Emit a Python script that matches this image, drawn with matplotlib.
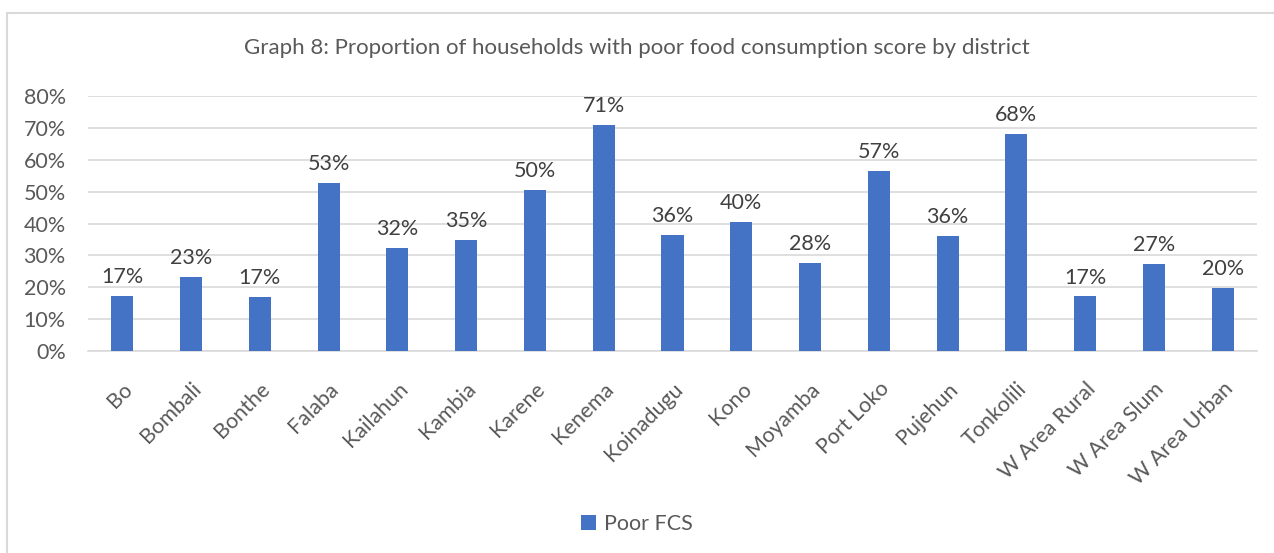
import matplotlib.pyplot as plt
from matplotlib.patches import Rectangle
from matplotlib.ticker import FuncFormatter

districts = ['Bo', 'Bombali', 'Bonthe', 'Falaba', 'Kailahun', 'Kambia', 'Karene',
             'Kenema', 'Koinadugu', 'Kono', 'Moyamba', 'Port Loko', 'Pujehun',
             'Tonkolili', 'W Area Rural', 'W Area Slum', 'W Area Urban']
poor_fcs = [0.174, 0.233, 0.170, 0.528, 0.322, 0.349, 0.505, 0.710, 0.364,
            0.404, 0.276, 0.566, 0.362, 0.682, 0.171, 0.273, 0.199]

plt.rcParams['font.family'] = ['Lato', 'DejaVu Sans']
grey = '#595959'
blue = '#4472C4'

fig = plt.figure(figsize=(12.74, 5.53), dpi=100)
# chart frame (only left and top edges visible in the crop)
fig.patches.append(Rectangle((7 / 1274, -0.1), 1.2, 1 - 13 / 553 + 0.1,
                             transform=fig.transFigure, fill=False,
                             edgecolor='#d9d9d9', linewidth=1.5))

ax = fig.add_axes([88 / 1274, 1 - 351 / 553, (1257 - 88) / 1274, (351 - 96) / 553])
x = range(len(districts))
bars = ax.bar(x, poor_fcs, width=0.32, color=blue, label='Poor FCS', zorder=3)

for xi, v in zip(x, poor_fcs):
    ax.text(xi, v + 0.028, f'{round(v * 100):.0f}%', ha='center', va='bottom',
            fontsize=15.5, color='#404040')

ax.set_ylim(0, 0.8)
ax.set_xlim(-0.5, len(districts) - 0.5)
ax.set_yticks([i / 10 for i in range(9)])
ax.yaxis.set_major_formatter(FuncFormatter(lambda v, p: f'{v * 100:.0f}%'))
ax.grid(axis='y', color='#d9d9d9', linewidth=1.2, zorder=0)
for s in ['top', 'right', 'left']:
    ax.spines[s].set_visible(False)
ax.spines['bottom'].set_color('#d9d9d9')
ax.spines['bottom'].set_linewidth(1.2)
ax.tick_params(axis='both', length=0, labelsize=15.5, labelcolor=grey)
ax.tick_params(axis='y', pad=16)
ax.set_xticks(list(x))
ax.set_xticklabels(districts, rotation=45, ha='right', rotation_mode='anchor')
ax.tick_params(axis='x', pad=20)

fig.text(0.5, 1 - 48 / 553, 'Graph 8: Proportion of households with poor food consumption score by district',
         ha='center', va='center', fontsize=16, color=grey)
fig.legend(handles=[bars], loc='center', bbox_to_anchor=(0.5, 1 - 524 / 553),
           frameon=False, fontsize=15.5, labelcolor=grey, handlelength=0.7,
           handleheight=0.7, handletextpad=0.4)

fig.savefig('out.png', dpi=100)
